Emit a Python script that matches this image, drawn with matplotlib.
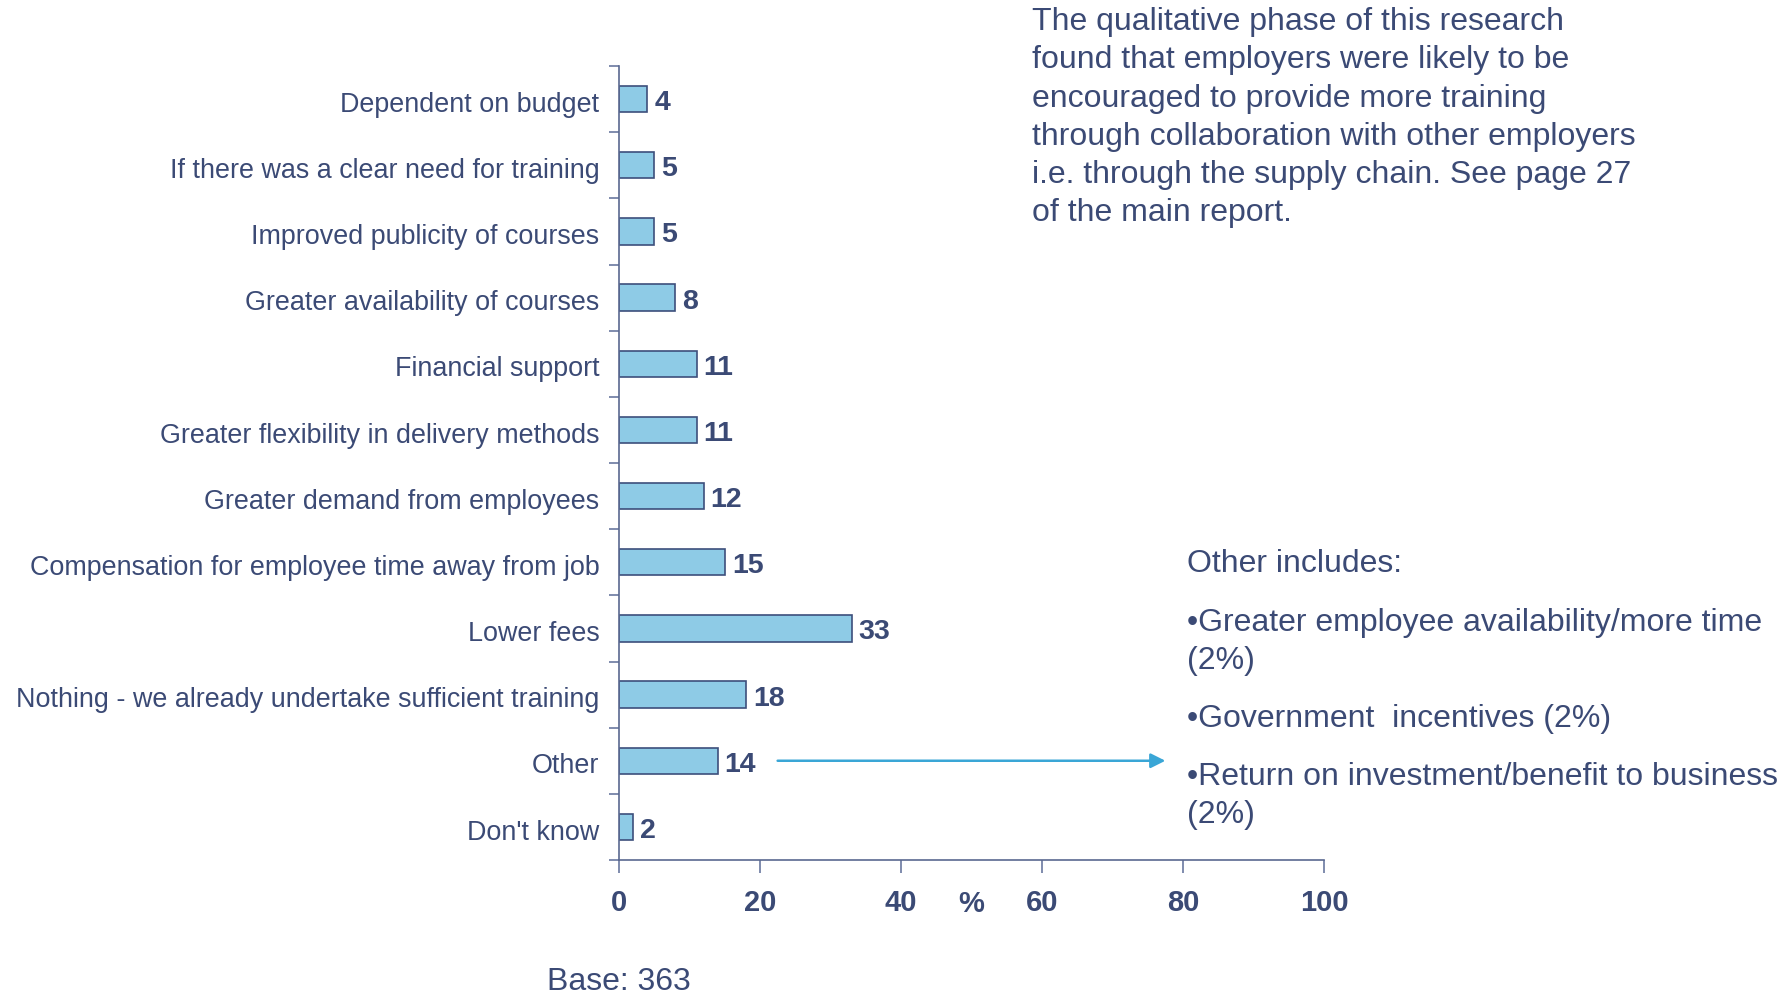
import matplotlib
matplotlib.use("Agg")
import matplotlib.pyplot as plt

plt.rcParams['font.family'] = ['Liberation Sans', 'DejaVu Sans']

categories = [
    "Dependent on budget",
    "If there was a clear need for training",
    "Improved publicity of courses",
    "Greater availability of courses",
    "Financial support",
    "Greater flexibility in delivery methods",
    "Greater demand from employees",
    "Compensation for employee time away from job",
    "Lower fees",
    "Nothing - we already undertake sufficient training",
    "Other",
    "Don't know",
]
values = [4, 5, 5, 8, 11, 11, 12, 15, 33, 18, 14, 2]
x_ticks = [0, 20, 40, 60, 80, 100]

note_text = ("The qualitative phase of this research\n"
             "found that employers were likely to be\n"
             "encouraged to provide more training\n"
             "through collaboration with other employers\n"
             "i.e. through the supply chain. See page 27\n"
             "of the main report.")
other_title = "Other includes:"
other_items = [
    "\u2022Greater employee availability/more time\n(2%)",
    "\u2022Government  incentives (2%)",
    "\u2022Return on investment/benefit to business\n(2%)",
]
base_text = "Base: 363"

NAVY = "#3b4a75"
BAR = "#8ecbe6"
BAR_EDGE = "#3d4f7c"
ARROW = "#3aa6d6"

W, H = 1782, 999
fig = plt.figure(figsize=(W / 100, H / 100), dpi=100)
ax = fig.add_axes([619 / W, 1 - 860 / H, 705 / W, 794 / H])

ypos = list(range(len(categories)))
ax.barh(ypos, values, height=0.4, color=BAR, edgecolor=BAR_EDGE, linewidth=1.2)
for y, v in zip(ypos, values):
    ax.text(v + 1.0, y + 0.06, str(v), va='center', ha='left', fontsize=20.5,
            fontweight='bold', color=NAVY)

ax.set_xlim(0, 100)
ax.set_ylim(len(categories) - 0.5, -0.5)
ax.set_xticks(x_ticks)
ax.set_xticklabels([str(t) for t in x_ticks], fontsize=21, fontweight='bold', color=NAVY)
ax.tick_params(axis='x', direction='out', length=9, width=1.2, color="#6a78a0", pad=12)

# category labels without ticks; ticks sit between categories
ax.set_yticks([y + 0.04 for y in ypos])
ax.set_yticklabels(categories, fontsize=19.4, color=NAVY)
ax.tick_params(axis='y', which='major', length=0, pad=14)
ax.set_yticks([i - 0.5 for i in range(len(categories) + 1)], minor=True)
ax.tick_params(axis='y', which='minor', direction='out', length=7, width=1.2, color="#6a78a0")

for side in ('top', 'right'):
    ax.spines[side].set_visible(False)
for side in ('left', 'bottom'):
    ax.spines[side].set_color("#5a6890")
    ax.spines[side].set_linewidth(1.2)

ax.text(50, -44 / 794, "%", transform=ax.get_xaxis_transform(), ha='center', va='center',
        fontsize=21, fontweight='bold', color=NAVY)

# arrow from the "Other" bar towards the explanatory list
oy = categories.index("Other")
ax.annotate("", xy=(77.5, oy), xytext=(22.5, oy),
            arrowprops=dict(arrowstyle='-|>', color=ARROW, lw=1.8,
                            mutation_scale=22, shrinkA=0, shrinkB=0),
            annotation_clip=False)

fig.text(619 / W, 1 - 990 / H, base_text, ha='center', va='baseline',
         fontsize=23, color=NAVY)

fig.text(1032 / W, 1 - 7 / H, note_text, ha='left', va='top', fontsize=23,
         color=NAVY, linespacing=1.36)

fig.text(1187 / W, 1 - 564 / H, other_title, ha='left', va='center', fontsize=23, color=NAVY)
item_y = [642, 719, 796]
for txt, yy in zip(other_items, item_y):
    fig.text(1187 / W, 1 - yy / H, txt, ha='left', va='center', fontsize=23,
             color=NAVY, linespacing=1.36)

fig.savefig("out.png", dpi=100, facecolor='white')
